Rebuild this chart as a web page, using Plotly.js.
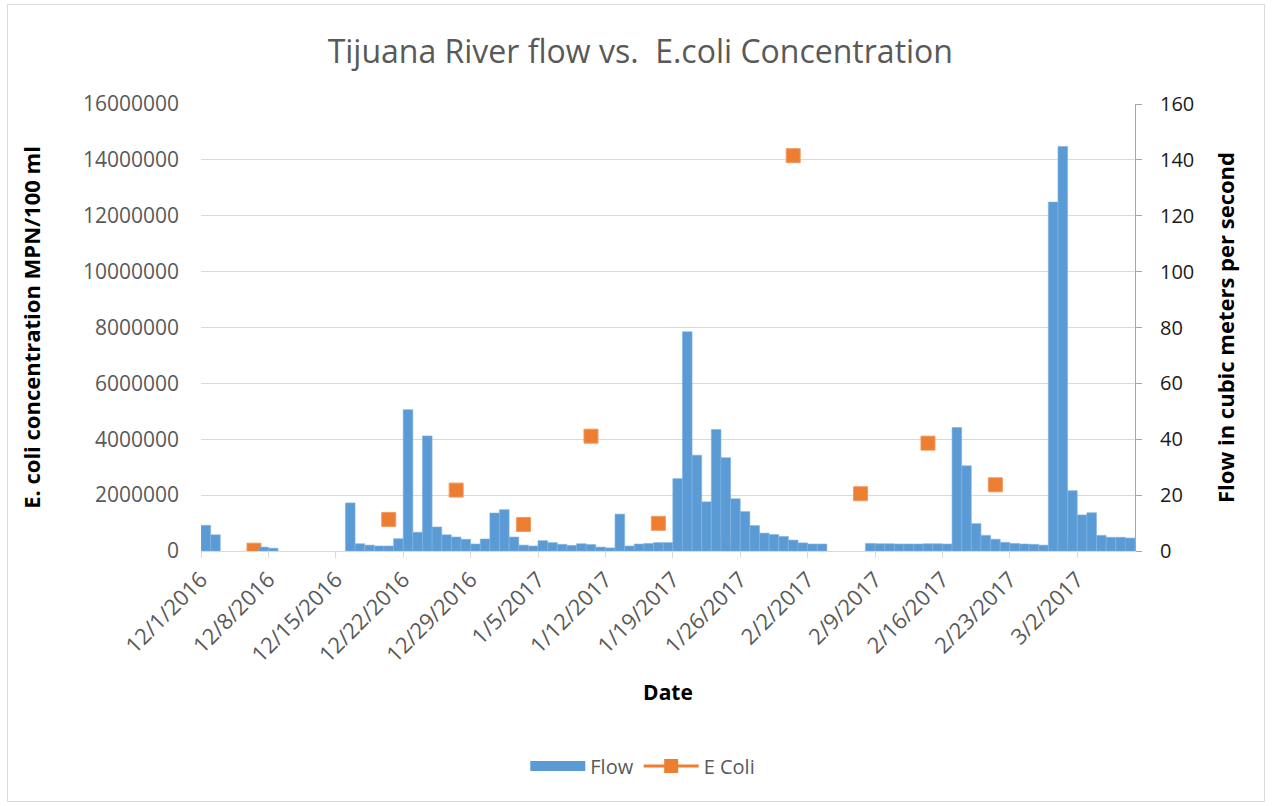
<!DOCTYPE html>
<html>
<head>
<meta charset="utf-8">
<script src="https://cdn.plot.ly/plotly-3.0.1.min.js"></script>
<style>
  html, body { margin: 0; padding: 0; background: #fff; }
  #chart { width: 1273px; height: 806px; }
  #frame { position: absolute; left: 7px; top: 4px; width: 1258px; height: 798px;
           border: 1px solid #d9d9d9; pointer-events: none; box-sizing: border-box; }
</style>
</head>
<body>
<div id="chart"></div>
<div id="frame"></div>
<script>
// Flow (m^3/s), one bar per day
const flowDates = [
  '2016-12-01','2016-12-02','2016-12-07','2016-12-08',
  '2016-12-16','2016-12-17','2016-12-18','2016-12-19','2016-12-20','2016-12-21','2016-12-22',
  '2016-12-23','2016-12-24','2016-12-25','2016-12-26','2016-12-27','2016-12-28','2016-12-29',
  '2016-12-30','2016-12-31','2017-01-01','2017-01-02','2017-01-03','2017-01-04','2017-01-05',
  '2017-01-06','2017-01-07','2017-01-08','2017-01-09','2017-01-10','2017-01-11','2017-01-12',
  '2017-01-13','2017-01-14','2017-01-15','2017-01-16','2017-01-17','2017-01-18','2017-01-19',
  '2017-01-20','2017-01-21','2017-01-22','2017-01-23','2017-01-24','2017-01-25','2017-01-26',
  '2017-01-27','2017-01-28','2017-01-29','2017-01-30','2017-01-31','2017-02-01','2017-02-02',
  '2017-02-03',
  '2017-02-08','2017-02-09','2017-02-10','2017-02-11','2017-02-12','2017-02-13','2017-02-14',
  '2017-02-15','2017-02-16','2017-02-17','2017-02-18','2017-02-19','2017-02-20','2017-02-21',
  '2017-02-22','2017-02-23','2017-02-24','2017-02-25','2017-02-26','2017-02-27','2017-02-28',
  '2017-03-01','2017-03-02','2017-03-03','2017-03-04','2017-03-05','2017-03-06','2017-03-07'
];
const flowValues = [
  9.2, 5.8, 1.4, 1.0,
  17.2, 2.6, 2.1, 1.8, 1.8, 4.4, 50.6,
  6.7, 41.2, 8.6, 5.8, 5.0, 4.2, 2.5,
  4.3, 13.6, 14.8, 5.0, 2.1, 1.8, 3.7,
  3.0, 2.4, 2.0, 2.6, 2.3, 1.4, 1.1,
  13.2, 1.8, 2.5, 2.7, 3.0, 3.0, 25.9,
  78.5, 34.3, 17.6, 43.5, 33.4, 18.7, 14.1,
  9.1, 6.4, 5.9, 5.2, 3.9, 2.9, 2.5,
  2.5,
  2.7, 2.6, 2.6, 2.5, 2.5, 2.5, 2.6,
  2.6, 2.5, 44.2, 30.5, 9.8, 5.6, 4.2,
  3.1, 2.7, 2.5, 2.4, 2.1, 124.9, 144.8,
  21.6, 12.9, 13.7, 5.6, 4.9, 4.9, 4.6
];

// E. coli concentration (MPN/100 ml)
const ecoliDates = [
  '2016-12-06','2016-12-20','2016-12-27','2017-01-03','2017-01-10','2017-01-17','2017-01-24',
  '2017-01-31','2017-02-07','2017-02-14','2017-02-21','2017-02-28','2017-03-07'
];
const ecoliValues = [
  30000, 1130000, 2180000, 950000, 4110000, 990000, 230000,
  14150000, 2050000, 3860000, 2370000, 70000, 200000
];

const leftTicks = [0, 2000000, 4000000, 6000000, 8000000, 10000000, 12000000, 14000000, 16000000];
const rightTicks = [0, 20, 40, 60, 80, 100, 120, 140, 160];

const DAY = 86400000;
const FONT = '"Open Sans", "Liberation Sans", sans-serif';
const BLUE = '#5b9bd5';
const ORANGE = '#ed7d31';

const traces = [
  {
    type: 'bar', name: 'Flow', showlegend: false,
    x: flowDates, y: flowValues, yaxis: 'y2',
    xperiod: DAY, xperiodalignment: 'middle',
    width: DAY,
    marker: { color: BLUE, line: { color: '#7fb1e0', width: 0.6 } },
    hoverinfo: 'skip'
  },
  {
    type: 'scatter', mode: 'markers', name: 'E Coli', showlegend: false,
    x: ecoliDates, y: ecoliValues, yaxis: 'y',
    xperiod: DAY, xperiodalignment: 'middle',
    marker: { symbol: 'square', size: 14, color: ORANGE, line: { color: '#f19a63', width: 1 } },
    hoverinfo: 'skip'
  },
  // legend entries (no data drawn)
  {
    type: 'scatter', mode: 'lines', name: 'Flow',
    x: [null], y: [null], yaxis: 'y2',
    line: { color: BLUE, width: 18 }
  },
  {
    type: 'scatter', mode: 'lines+markers', name: 'E Coli',
    x: [null], y: [null], yaxis: 'y',
    line: { color: ORANGE, width: 3 },
    marker: { symbol: 'square', size: 14, color: ORANGE }
  }
];

const layout = {
  width: 1273, height: 806,
  margin: { l: 201, r: 138, t: 104, b: 255 },
  paper_bgcolor: '#fff', plot_bgcolor: '#fff',
  font: { family: FONT, color: '#595959' },
  showlegend: true,
  hovermode: false,
  bargap: 0,
  title: {
    text: 'Tijuana River flow vs.  E.coli Concentration',
    font: { family: FONT, size: 32, color: '#595959' },
    x: 0.503, xanchor: 'center', xref: 'container',
    y: 47, yref: 'container', yanchor: 'middle'
  },
  xaxis: {
    type: 'date',
    range: ['2016-12-01', '2017-03-08'],
    tick0: '2016-12-01', dtick: 7 * DAY,
    tickformat: '%-m/%-d/%Y',
    tickangle: -45,
    tickfont: { family: FONT, size: 22, color: '#595959' },
    ticks: 'outside', ticklen: 6, tickcolor: '#d9d9d9', tickwidth: 1,
    showline: true, linecolor: '#d9d9d9', linewidth: 1,
    showgrid: false, zeroline: false,
    automargin: false,
    title: { text: 'Date', font: { family: FONT, size: 21, color: '#000', weight: 'bold' }, standoff: 18 }
  },
  yaxis: {
    range: [0, 16000000],
    tickvals: leftTicks,
    tickformat: 'd',
    tickfont: { family: FONT, size: 21, color: '#595959' },
    ticks: '', ticklabelstandoff: 21,
    showline: false, zeroline: false,
    gridcolor: '#d9d9d9', gridwidth: 1,
    automargin: false,
    title: { text: 'E. coli concentration MPN/100 ml', font: { family: FONT, size: 22, color: '#000', weight: 'bold' }, standoff: 36 }
  },
  yaxis2: {
    overlaying: 'y', side: 'right',
    range: [0, 160],
    tickvals: rightTicks,
    tickfont: { family: FONT, size: 20, color: '#1a1a1a' },
    ticks: 'outside', ticklen: 6, tickcolor: '#a6a6a6', ticklabelstandoff: 14,
    showline: true, linecolor: '#a6a6a6', linewidth: 1,
    showgrid: false, zeroline: false,
    automargin: false,
    title: { text: 'Flow in cubic meters per second', font: { family: FONT, size: 22, color: '#000', weight: 'bold' }, standoff: 25 }
  },
  legend: {
    orientation: 'h',
    x: 0.473, xanchor: 'center',
    y: -0.481, yanchor: 'middle',
    font: { family: FONT, size: 20, color: '#595959' },
    itemwidth: 55,
    bgcolor: 'rgba(0,0,0,0)'
  }
};

Plotly.newPlot('chart', traces, layout, { displayModeBar: false, staticPlot: true });
</script>
</body>
</html>
